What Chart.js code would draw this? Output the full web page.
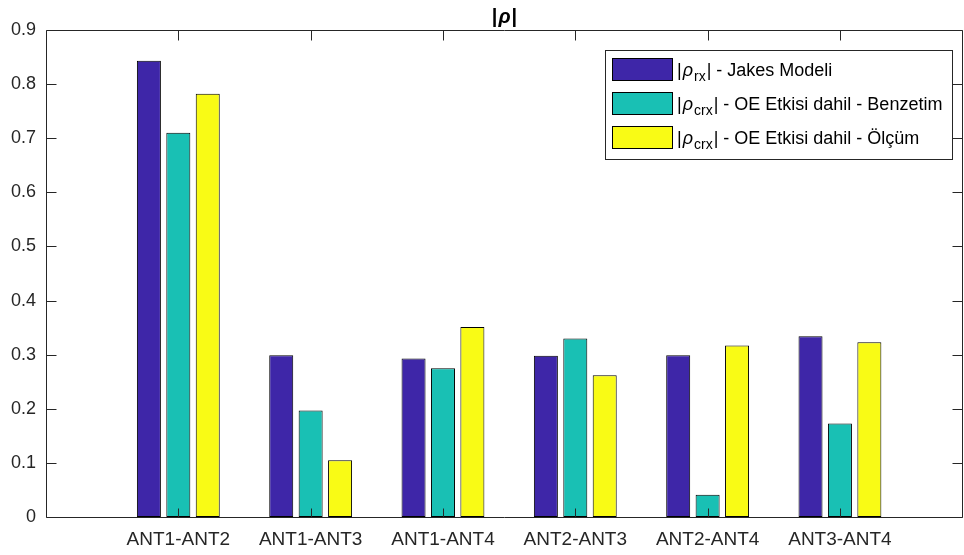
<!DOCTYPE html>
<html lang="tr">
<head>
<meta charset="UTF-8">
<title>|ρ|</title>
<script src="https://cdn.jsdelivr.net/npm/chart.js"></script>
<style>
  body { margin: 0; background: #fff; }
  canvas { display: block; }
</style>
</head>
<body>
<canvas id="rhoChart" width="964" height="555"></canvas>
<script>
const categories = ['ANT1-ANT2', 'ANT1-ANT3', 'ANT1-ANT4', 'ANT2-ANT3', 'ANT2-ANT4', 'ANT3-ANT4'];
const jakes = [0.843, 0.299, 0.293, 0.298, 0.299, 0.334];
const benzetim = [0.710, 0.197, 0.275, 0.330, 0.041, 0.173];
const olcum = [0.782, 0.105, 0.351, 0.262, 0.317, 0.323];
const yTicks = [0, 0.1, 0.2, 0.3, 0.4, 0.5, 0.6, 0.7, 0.8, 0.9];
const seriesNames = ['Jakes Modeli', 'OE Etkisi dahil - Benzetim', 'OE Etkisi dahil - Ölçüm'];
const seriesSubs = ['rx', 'crx', 'crx'];
const colors = ['#3e26a8', '#19c0b4', '#f9fb15'];

const axisColor = '#262626';
const fontFam = '"Liberation Sans", Arial, sans-serif';

// x positions are 1..6 on a linear axis that runs 0..6.93 like the matlab plot
const toPoints = arr => arr.map((v, i) => ({x: i + 1, y: v}));

// draw a run of text pieces (normal / italic / subscript) starting at x
function drawPieces(ctx, pieces, x, baseline, size, bold) {
    const w = bold ? 'bold ' : '';
    pieces.forEach(p => {
        if (p.sub) {
            ctx.font = w + Math.round(size * 0.75) + 'px ' + fontFam;
            ctx.fillText(p.t, x, baseline + 5);
        } else {
            ctx.font = (p.it ? 'italic ' : '') + w + size + 'px ' + fontFam;
            ctx.fillText(p.t, x, baseline);
        }
        x += ctx.measureText(p.t).width + (p.gap || 0);
    });
    return x;
}

function piecesWidth(ctx, pieces, size, bold) {
    let w = 0;
    pieces.forEach(p => {
        ctx.font = (p.it ? 'italic ' : '') + (bold ? 'bold ' : '') + (p.sub ? Math.round(size * 0.75) : size) + 'px ' + fontFam;
        w += ctx.measureText(p.t).width + (p.gap || 0);
    });
    return w;
}

// frame, inward ticks, title and legend
const matlabAxes = {
    id: 'matlabAxes',
    afterDatasetsDraw(chart) {
        const {ctx, chartArea: a, scales: {x, y}} = chart;
        const L = Math.round(a.left) + 0.5, R = Math.round(a.right) - 0.5;
        const T = Math.round(a.top) + 0.5, B = Math.round(a.bottom) + 0.5;
        ctx.save();
        ctx.strokeStyle = axisColor;
        ctx.lineWidth = 1;
        ctx.beginPath();
        ctx.moveTo(L, T); ctx.lineTo(R, T); ctx.lineTo(R, B); ctx.lineTo(L, B); ctx.closePath();
        yTicks.forEach(v => {
            const py = Math.round(y.getPixelForValue(v)) + 0.5;
            ctx.moveTo(L, py); ctx.lineTo(L + 10, py);
            ctx.moveTo(R, py); ctx.lineTo(R - 10, py);
        });
        categories.forEach((c, i) => {
            const px = Math.round(x.getPixelForValue(i + 1)) + 0.5;
            ctx.moveTo(px, B); ctx.lineTo(px, B - 9);
            ctx.moveTo(px, T); ctx.lineTo(px, T + 10);
        });
        ctx.stroke();

        // title |rho|
        ctx.fillStyle = '#000';
        ctx.textBaseline = 'alphabetic';
        const title = [{t: '|', gap: 1}, {t: 'ρ', it: true, gap: 1}, {t: '|'}];
        const tw = piecesWidth(ctx, title, 20, true);
        drawPieces(ctx, title, (a.left + a.right) / 2 - tw / 2, 23, 20, true);

        // legend box
        ctx.fillStyle = '#fff';
        ctx.strokeStyle = axisColor;
        ctx.fillRect(605.5, 50.5, 347, 109);
        ctx.strokeRect(605.5, 50.5, 347, 109);
        seriesNames.forEach((name, i) => {
            const top = 58 + i * 34;
            ctx.fillStyle = colors[i];
            ctx.fillRect(612.5, top + 0.5, 60, 22);
            ctx.strokeStyle = '#000';
            ctx.strokeRect(612.5, top + 0.5, 60, 22);
            ctx.fillStyle = '#000';
            drawPieces(ctx, [
                {t: '|', gap: 1},
                {t: 'ρ', it: true, gap: 1},
                {t: seriesSubs[i], sub: true, gap: 1},
                {t: '| - ' + name}
            ], 677, top + 18, 18, false);
        });
        ctx.restore();
    }
};

const ctx = document.getElementById('rhoChart').getContext('2d');
const rhoChart = new Chart(ctx, {
    type: 'bar',
    data: {
        datasets: [
            {label: seriesNames[0], data: toPoints(jakes), backgroundColor: colors[0]},
            {label: seriesNames[1], data: toPoints(benzetim), backgroundColor: colors[1]},
            {label: seriesNames[2], data: toPoints(olcum), backgroundColor: colors[2]}
        ].map(d => Object.assign(d, {
            borderColor: '#000',
            borderWidth: 1,
            borderSkipped: false,
            categoryPercentage: 0.667,
            barPercentage: 0.816
        }))
    },
    options: {
        responsive: false,
        animation: false,
        devicePixelRatio: 1,
        layout: {padding: {top: 30, right: 1, left: 0, bottom: 0}},
        plugins: {
            legend: {display: false},
            title: {display: false},
            tooltip: {enabled: false}
        },
        scales: {
            x: {
                type: 'linear',
                min: 0,
                max: 6.93,
                offset: false,
                grid: {display: false, drawTicks: false},
                border: {display: false},
                afterBuildTicks: s => { s.ticks = categories.map((c, i) => ({value: i + 1})); },
                afterFit: s => { s.height = 38; },
                ticks: {
                    autoSkip: false,
                    maxRotation: 0,
                    padding: 11,
                    color: axisColor,
                    font: {family: fontFam, size: 19},
                    callback: v => categories[v - 1] || ''
                }
            },
            y: {
                min: 0,
                max: 0.9,
                grid: {display: false, drawTicks: false},
                border: {display: false},
                afterBuildTicks: s => { s.ticks = yTicks.map(v => ({value: v})); },
                afterFit: s => { s.width = 46; },
                ticks: {
                    padding: 10,
                    color: axisColor,
                    font: {family: fontFam, size: 18},
                    callback: v => String(+v.toFixed(1))
                }
            }
        }
    },
    plugins: [matlabAxes]
});
</script>
</body>
</html>
